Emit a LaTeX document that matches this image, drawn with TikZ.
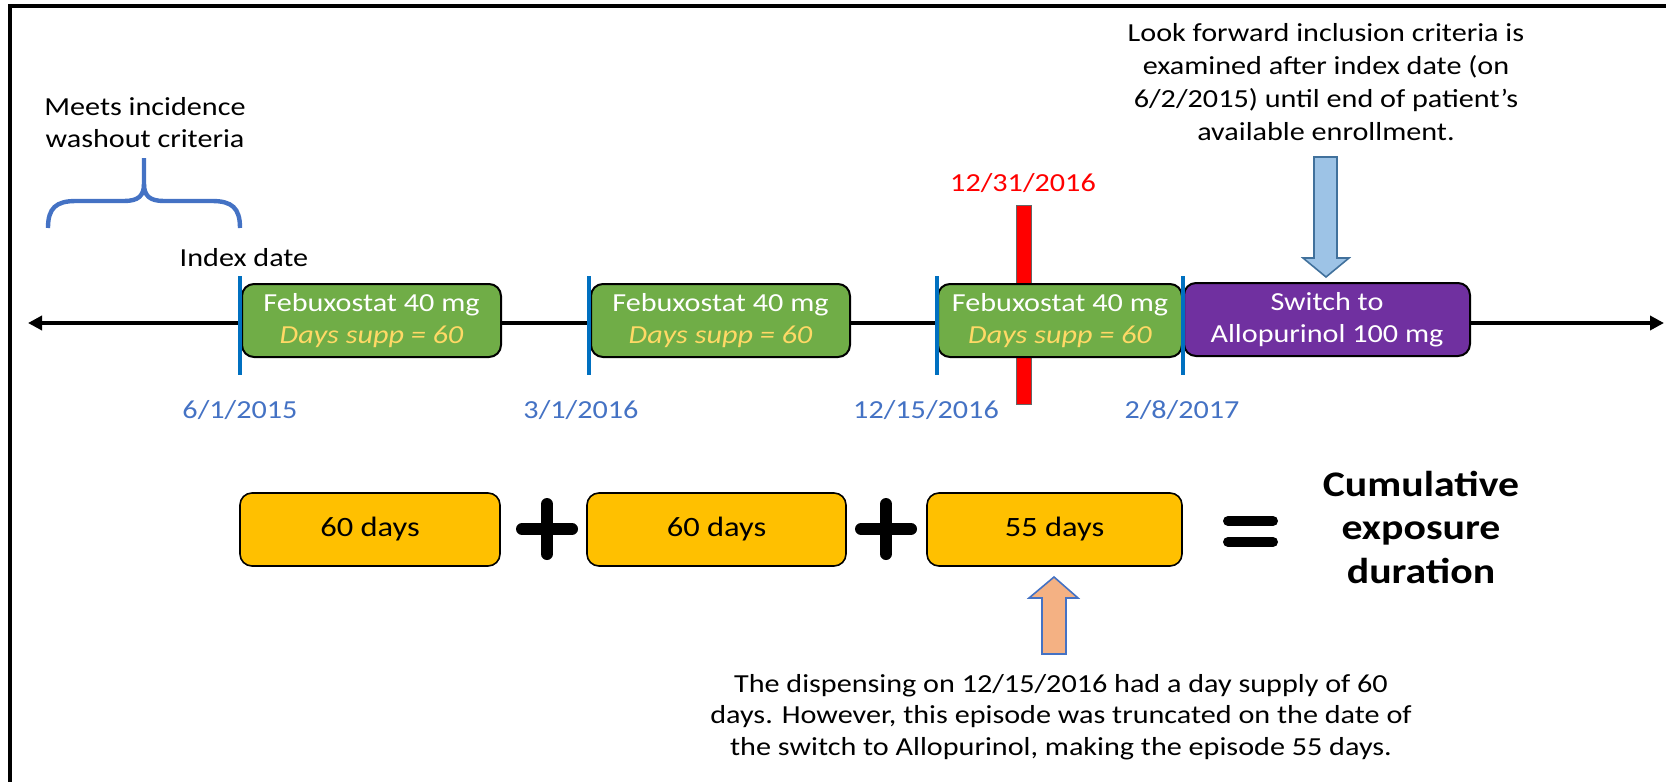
\documentclass[tikz,border=0pt]{standalone}
\usepackage{fontspec}
\setmainfont{Carlito}[FakeStretch=1.16]
\usepackage{tikz}
\usetikzlibrary{arrows.meta}

\definecolor{febgreen}{HTML}{70AD47}
\definecolor{suppyellow}{HTML}{FFD966}
\definecolor{switchpurple}{HTML}{7030A0}
\definecolor{tickblue}{HTML}{0070C0}
\definecolor{dateblue}{HTML}{4472C4}
\definecolor{daysgold}{HTML}{FFC000}
\definecolor{lookblue}{HTML}{9DC3E6}
\definecolor{lookedge}{HTML}{41719C}
\definecolor{notepeach}{HTML}{F4B183}

\begin{document}
\begin{tikzpicture}[x=0.5pt,y=-0.5pt,
    every node/.style={font=\fontsize{13}{16}\selectfont, align=center, inner sep=0pt},
    drugbox/.style={draw=black, line width=1pt, rounded corners=6pt, minimum height=36.5pt, text=white},
    daysbox/.style={draw=black, line width=0.8pt, rounded corners=6pt, minimum height=36.5pt, fill=daysgold,
        font=\fontsize{14}{16}\selectfont},
    tickline/.style={draw=tickblue, line width=2pt},
    datelabel/.style={text=dateblue},
    opsign/.style={line width=6pt, line cap=round},
    blockarrow/.style={draw=lookedge, line width=0.8pt, line join=miter}]
    \useasboundingbox (0,0) rectangle (1666,782);

    % frame (only left and top edges show)
    \draw[line width=2pt] (10,782) -- (10,6) -- (1666,6);

    % washout brace
    \node (washout) at (145,123) {Meets incidence\\washout criteria};
    \draw[dateblue, line width=2.2pt] (48,228) .. controls (48,208) and (56,201) .. (76,201) -- (124,201)
        .. controls (138,201) and (144,196) .. (144,184) -- (144,158);
    \draw[dateblue, line width=2.2pt] (144,184) .. controls (144,196) and (150,201) .. (164,201) -- (212,201)
        .. controls (232,201) and (240,208) .. (240,228);
    \node (index) at (244,258) {Index date};

    % cut-off date
    \draw[fill=red, draw=black!60, line width=0.5pt] (1016,205) rectangle (1031,404);
    \node[text=red] (cutoff) at (1023,183) {12/31/2016};

    % timeline
    \coordinate (tl-west) at (28,323);
    \coordinate (tl-east) at (1664,323);
    \draw[line width=2pt, {Triangle[length=7pt,width=7pt]}-{Triangle[length=7pt,width=7pt]}] (tl-west) -- (tl-east);

    \node[drugbox, fill=febgreen, minimum width=129.5pt] (feb1) at (371.5,320.5)
        {Febuxostat 40 mg\\{\color{suppyellow}\itshape Days supp = 60}};
    \node[drugbox, fill=febgreen, minimum width=129.5pt] (feb2) at (720.5,320.5)
        {Febuxostat 40 mg\\{\color{suppyellow}\itshape Days supp = 60}};
    \node[drugbox, fill=febgreen, minimum width=122pt] (feb3) at (1060,320.5)
        {Febuxostat 40 mg\\{\color{suppyellow}\itshape Days supp = 60}};
    \node[drugbox, fill=switchpurple, minimum width=143pt] (allo) at (1327,319.5)
        {Switch to\\Allopurinol 100 mg};

    \foreach \x in {240,589,937,1183}
        \draw[tickline] (\x,276) -- (\x,375);

    \node[datelabel] (d1) at (240,410) {6/1/2015};
    \node[datelabel] (d2) at (581,410) {3/1/2016};
    \node[datelabel] (d3) at (926,410) {12/15/2016};
    \node[datelabel] (d4) at (1182,410) {2/8/2017};

    % look forward note
    \node[font=\fontsize{13}{16.5}\selectfont] (lookfwd) at (1326,82)
        {Look forward inclusion criteria is\\examined after index date (on\\6/2/2015) until end of patient’s\\available enrollment.};
    \draw[blockarrow, fill=lookblue] (1314,157) -- (1337,157) -- (1337,258) -- (1349,258)
        -- (1326,277) -- (1303,258) -- (1314,258) -- cycle;

    % cumulative sum
    \node[daysbox, minimum width=130pt] (sum1) at (370,529.5) {60 days};
    \node[daysbox, minimum width=129.5pt] (sum2) at (716.5,529.5) {60 days};
    \node[daysbox, minimum width=127.5pt] (sum3) at (1054.5,529.5) {55 days};

    \draw[opsign] (522,529) -- (572,529) (547,504) -- (547,554);
    \draw[opsign] (861,529) -- (911,529) (886,504) -- (886,554);
    \draw[line width=5pt, line cap=round] (1228,521) -- (1273,521) (1228,542) -- (1273,542);

    \node[font=\bfseries\fontsize{18}{21.75}\selectfont] (total) at (1421,527)
        {Cumulative\\exposure\\duration};

    % truncation note
    \draw[blockarrow, draw=dateblue, fill=notepeach] (1054,577) -- (1078,598) -- (1066,598) -- (1066,654)
        -- (1042,654) -- (1042,598) -- (1029,598) -- cycle;
    \node[font=\fontsize{13}{15.75}\selectfont] (trunc) at (1061,717)
        {The dispensing on 12/15/2016 had a day supply of 60\\days. However, this episode was truncated on the date of\\the switch to Allopurinol, making the episode 55 days.};
\end{tikzpicture}
\end{document}
